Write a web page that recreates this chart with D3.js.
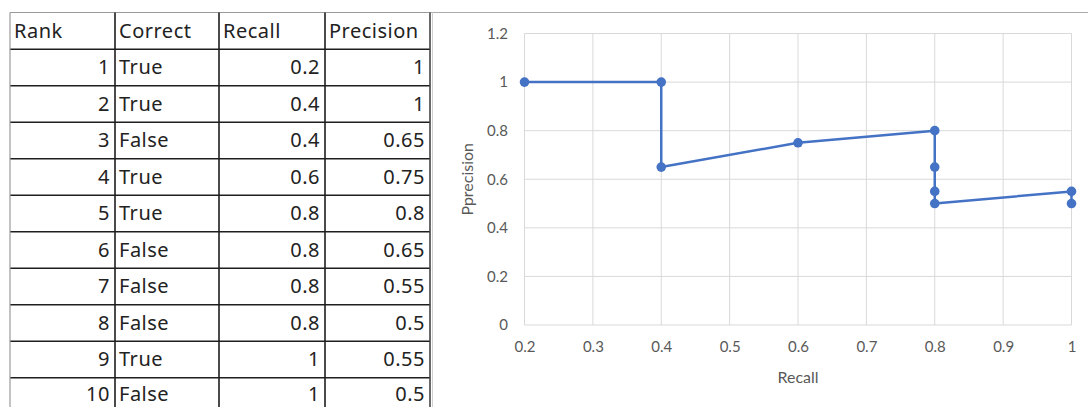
<!DOCTYPE html>
<html>
<head>
<meta charset="utf-8">
<script src="https://cdn.jsdelivr.net/npm/d3@7"></script>
<style>
  html, body { margin: 0; padding: 0; background: #fff; }
  svg { display: block; }
</style>
</head>
<body>
<svg id="chart" width="1088" height="407"></svg>
<script>
// ---- Data ----
const headers = ["Rank", "Correct", "Recall", "Precision"];
const ranks = [1, 2, 3, 4, 5, 6, 7, 8, 9, 10];
const correct = ["True", "True", "False", "True", "True", "False", "False", "False", "True", "False"];
const recall = [0.2, 0.4, 0.4, 0.6, 0.8, 0.8, 0.8, 0.8, 1, 1];
const precision = [1, 1, 0.65, 0.75, 0.8, 0.65, 0.55, 0.5, 0.55, 0.5];
const xTicks = [0.2, 0.3, 0.4, 0.5, 0.6, 0.7, 0.8, 0.9, 1];
const yTicks = [0, 0.2, 0.4, 0.6, 0.8, 1, 1.2];
const xTitle = "Recall";
const yTitle = "Pprecision";

const svg = d3.select("#chart");

// ---- Sheet line across the top ----
svg.append("line").attr("x1", 430).attr("x2", 1088).attr("y1", 12.5).attr("y2", 12.5)
  .attr("stroke", "#ababab").attr("stroke-width", 1.2);

// ---- Table ----
const colEdges = [10, 115, 219, 325, 430];
const tableTop = 12.5, headerH = 36.8, rowH = 36.5;
const rowEdges = [tableTop, tableTop + headerH];
for (let i = 1; i <= ranks.length; i++) rowEdges.push(tableTop + headerH + i * rowH);

const tbl = svg.append("g").attr("class", "table");
rowEdges.forEach((yy, i) => {
  tbl.append("line").attr("x1", colEdges[0]).attr("x2", colEdges[4])
    .attr("y1", yy).attr("y2", yy)
    .attr("stroke", i === 0 ? "#9a9a9a" : "#1e1e1e").attr("stroke-width", i === 0 ? 1.2 : 1.6);
});
colEdges.forEach((xx, i) => {
  tbl.append("line").attr("x1", xx).attr("x2", xx)
    .attr("y1", tableTop).attr("y2", 407)
    .attr("stroke", i === 0 ? "#9a9a9a" : (i === 4 ? "#444" : "#1e1e1e"))
    .attr("stroke-width", i === 0 ? 1.2 : 1.6);
});
tbl.append("line").attr("x1", 432.5).attr("x2", 432.5).attr("y1", tableTop).attr("y2", 407)
  .attr("stroke", "#d0d0d0").attr("stroke-width", 1);

const tFont = "'Noto Sans', 'Noto Sans CJK JP', sans-serif";
const tSize = 20;
function cellText(txt, col, row, align) {
  const yb = Math.min(rowEdges[row + 1] - 11.5, 401);
  const xx = align === "end" ? colEdges[col + 1] - 5 : colEdges[col] + 4;
  tbl.append("text").attr("x", xx).attr("y", yb)
    .attr("text-anchor", align)
    .attr("font-family", tFont).attr("font-size", tSize)
    .attr("letter-spacing", "0.5px")
    .attr("fill", "#222").text(txt);
}
headers.forEach((h, c) => cellText(h, c, 0, "start"));
ranks.forEach((r, i) => {
  cellText(String(r), 0, i + 1, "end");
  cellText(correct[i], 1, i + 1, "start");
  cellText(String(recall[i]), 2, i + 1, "end");
  cellText(String(precision[i]), 3, i + 1, "end");
});

// ---- Chart ----
const x = d3.scaleLinear().domain([0.2, 1]).range([524.5, 1071.5]);
const y = d3.scaleLinear().domain([0, 1.2]).range([325, 33.5]);
const cFont = "Lato, 'Open Sans', sans-serif";
const g = svg.append("g");

g.append("g").selectAll("line").data(xTicks).join("line")
  .attr("x1", d => x(d)).attr("x2", d => x(d))
  .attr("y1", y(1.2)).attr("y2", y(0))
  .attr("stroke", "#d9d9d9").attr("stroke-width", 1);
g.append("g").selectAll("line").data(yTicks).join("line")
  .attr("x1", x(0.2)).attr("x2", x(1))
  .attr("y1", d => y(d)).attr("y2", d => y(d))
  .attr("stroke", "#d9d9d9").attr("stroke-width", 1);

const xAxis = g.append("g").attr("transform", `translate(0,${y(0)})`)
  .call(d3.axisBottom(x).tickValues(xTicks).tickSize(0).tickPadding(16).tickFormat(d3.format("")));
const yAxis = g.append("g").attr("transform", `translate(${x(0.2)},0)`)
  .call(d3.axisLeft(y).tickValues(yTicks).tickSize(0).tickPadding(16.5).tickFormat(d3.format("")));
[xAxis, yAxis].forEach(a => {
  a.select(".domain").remove();
  a.selectAll("text").attr("font-family", cFont).attr("font-size", 15).attr("fill", "#595959");
});

g.append("text").attr("x", (x(0.2) + x(1)) / 2).attr("y", 383)
  .attr("text-anchor", "middle").attr("font-family", cFont).attr("font-size", 16)
  .attr("fill", "#595959").text(xTitle);
g.append("text").attr("transform", `translate(473,${(y(0) + y(1.2)) / 2}) rotate(-90)`)
  .attr("text-anchor", "middle").attr("font-family", cFont).attr("font-size", 16)
  .attr("fill", "#595959").text(yTitle);

const pts = recall.map((r, i) => [r, precision[i]]);
g.append("path").datum(pts)
  .attr("d", d3.line().x(d => x(d[0])).y(d => y(d[1])))
  .attr("fill", "none").attr("stroke", "#4472C4").attr("stroke-width", 2.5)
  .attr("stroke-linejoin", "round");
g.append("g").selectAll("circle").data(pts).join("circle")
  .attr("cx", d => x(d[0])).attr("cy", d => y(d[1])).attr("r", 4.8)
  .attr("fill", "#4472C4");
</script>
</body>
</html>
